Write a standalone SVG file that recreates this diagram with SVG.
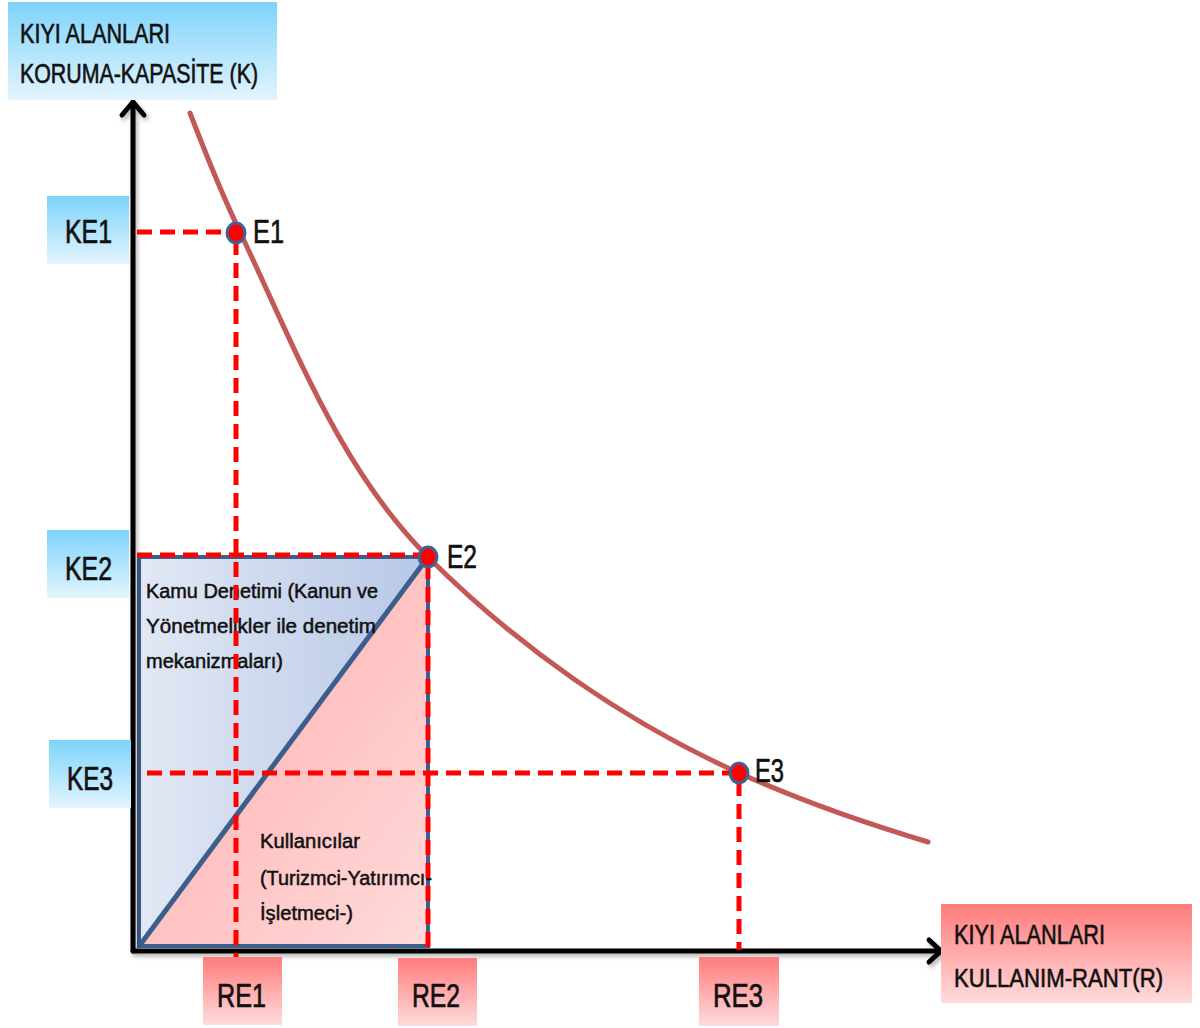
<svg xmlns="http://www.w3.org/2000/svg" width="1200" height="1028" viewBox="0 0 1200 1028">
<defs>
<linearGradient id="gBlue" x1="0" y1="0" x2="0" y2="1">
<stop offset="0" stop-color="#7dd3fa"/><stop offset="1" stop-color="#e4f5fe"/>
</linearGradient>
<linearGradient id="gPink" x1="0" y1="0" x2="0" y2="1">
<stop offset="0" stop-color="#ff7b7b"/><stop offset="1" stop-color="#ffdcdc"/>
</linearGradient>
<linearGradient id="gTriBlue" x1="0" y1="0" x2="1" y2="0">
<stop offset="0" stop-color="#e2e8f4"/><stop offset="1" stop-color="#b7c7e7"/>
</linearGradient>
<linearGradient id="gTriPink" x1="0" y1="0" x2="1" y2="1">
<stop offset="0" stop-color="#ffa9a9"/><stop offset="1" stop-color="#ffdada"/>
</linearGradient>
<filter id="sh" x="-10%" y="-10%" width="130%" height="130%">
<feDropShadow dx="2" dy="3" stdDeviation="2" flood-color="#000" flood-opacity="0.3"/>
</filter>
</defs>
<style>
.lbl{font-family:"Liberation Sans","DejaVu Sans",sans-serif;fill:#111;stroke:#111;}
.big{font-size:33px;stroke-width:0.7px;}
.mid{font-size:27px;stroke-width:0.6px;}
.mid2{font-size:25px;stroke-width:0.6px;}
.sm{font-size:20px;stroke-width:0.5px;}
.dash{stroke:#ff0000;stroke-width:5;stroke-dasharray:15 8;fill:none;}
.axis{stroke:#000;stroke-width:5;fill:none;stroke-linecap:round;stroke-linejoin:round;}
.pt{fill:#ff0000;stroke:#3f6294;stroke-width:3;}
</style>
<rect width="1200" height="1028" fill="#fff"/>

<g id="regions">
<polygon points="139,557 428,557 139,946" fill="url(#gTriBlue)"/>
<polygon points="428,557 428,946 139,946" fill="url(#gTriPink)"/>
<rect x="139" y="557" width="289" height="389" fill="none" stroke="#3b5e8c" stroke-width="4"/>
<line x1="140" y1="945" x2="428" y2="557" stroke="#3b5e8c" stroke-width="5"/>
<text class="lbl sm" x="146" y="598" textLength="232" lengthAdjust="spacingAndGlyphs">Kamu Denetimi (Kanun ve</text>
<text class="lbl sm" x="146" y="633" textLength="230" lengthAdjust="spacingAndGlyphs">Yönetmelikler ile denetim</text>
<text class="lbl sm" x="146" y="668" textLength="137" lengthAdjust="spacingAndGlyphs">mekanizmaları)</text>
<text class="lbl sm" x="260" y="848" textLength="100" lengthAdjust="spacingAndGlyphs">Kullanıcılar</text>
<text class="lbl sm" x="260" y="885" textLength="172" lengthAdjust="spacingAndGlyphs">(Turizmci-Yatırımcı-</text>
<text class="lbl sm" x="260" y="920" textLength="93" lengthAdjust="spacingAndGlyphs">İşletmeci-)</text>
</g>

<g id="connectors">
<g id="axes" filter="url(#sh)">
<polyline class="axis" points="133,951 133,102"/>
<polyline class="axis" points="122,115 133,102 144,115"/>
<polyline class="axis" points="133,951 941,951"/>
<polyline class="axis" points="929,940 941,951 929,962"/>
</g>
<path id="curve" d="M190,113 C205.4,153.1 221.5,193.2 240,232 C293.8,344.9 339.6,468.6 428,557 C517,646 624,721.3 739,773 C800.1,800.5 863.8,822.8 928,842" fill="none" stroke="#c0504d" stroke-width="5" stroke-linecap="round" opacity="0.95"/>
<line class="dash" x1="137" y1="232" x2="236" y2="232"/>
<line class="dash" x1="236" y1="240" x2="236" y2="957"/>
<line class="dash" x1="137" y1="555" x2="428" y2="555"/>
<line class="dash" x1="428" y1="564" x2="428" y2="948"/>
<line class="dash" x1="147" y1="773" x2="739" y2="773"/>
<line class="dash" x1="739" y1="781" x2="739" y2="950"/>
</g>

<g id="E1"><ellipse class="pt" cx="236" cy="233" rx="9" ry="10"/><text class="lbl big" x="253" y="243" textLength="31" lengthAdjust="spacingAndGlyphs">E1</text></g>
<g id="E2"><ellipse class="pt" cx="428" cy="557" rx="9" ry="10"/><text class="lbl big" x="447" y="568" textLength="30" lengthAdjust="spacingAndGlyphs">E2</text></g>
<g id="E3"><ellipse class="pt" cx="739" cy="773" rx="9" ry="10"/><text class="lbl big" x="755" y="782" textLength="29" lengthAdjust="spacingAndGlyphs">E3</text></g>

<g id="yTitle"><rect x="8" y="2" width="269" height="98" fill="url(#gBlue)"/>
<text class="lbl mid" x="20" y="43" textLength="150" lengthAdjust="spacingAndGlyphs">KIYI ALANLARI</text>
<text class="lbl mid" x="20" y="83" textLength="238" lengthAdjust="spacingAndGlyphs">KORUMA-KAPASİTE (K)</text></g>

<g id="xTitle"><rect x="941" y="904" width="251" height="99" fill="url(#gPink)"/>
<text class="lbl mid" x="954" y="944" textLength="151" lengthAdjust="spacingAndGlyphs">KIYI ALANLARI</text>
<text class="lbl mid2" x="954" y="987" textLength="209" lengthAdjust="spacingAndGlyphs">KULLANIM-RANT(R)</text></g>

<g id="KE1"><rect x="47" y="196" width="82" height="68" fill="url(#gBlue)"/><text class="lbl big" x="65" y="243" textLength="47" lengthAdjust="spacingAndGlyphs">KE1</text></g>
<g id="KE2"><rect x="47" y="530" width="82" height="68" fill="url(#gBlue)"/><text class="lbl big" x="65" y="580" textLength="47" lengthAdjust="spacingAndGlyphs">KE2</text></g>
<g id="KE3"><rect x="49" y="740" width="82" height="68" fill="url(#gBlue)"/><text class="lbl big" x="67" y="790" textLength="46" lengthAdjust="spacingAndGlyphs">KE3</text></g>

<g id="RE1"><rect x="203" y="957" width="79" height="68" fill="url(#gPink)"/><text class="lbl big" x="217" y="1007" textLength="49" lengthAdjust="spacingAndGlyphs">RE1</text></g>
<g id="RE2"><rect x="398" y="958" width="79" height="68" fill="url(#gPink)"/><text class="lbl big" x="412" y="1007" textLength="48" lengthAdjust="spacingAndGlyphs">RE2</text></g>
<g id="RE3"><rect x="699" y="957" width="80" height="69" fill="url(#gPink)"/><text class="lbl big" x="713" y="1007" textLength="50" lengthAdjust="spacingAndGlyphs">RE3</text></g>
</svg>
